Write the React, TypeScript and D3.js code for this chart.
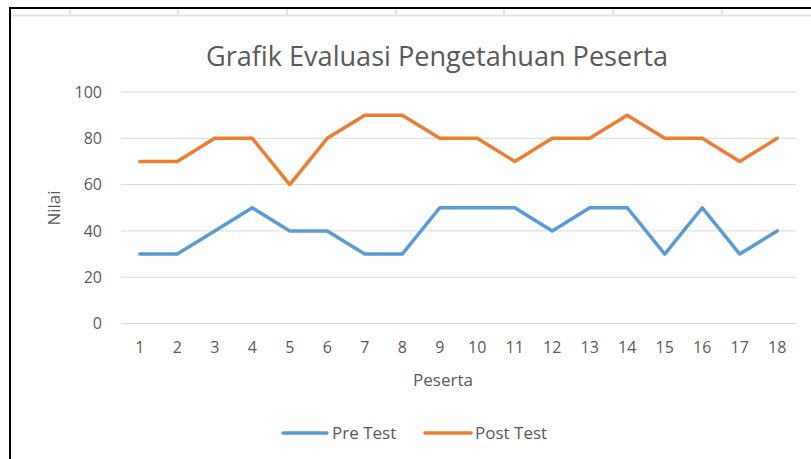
import React from "react";
import * as d3 from "d3";

const categories = ["1","2","3","4","5","6","7","8","9","10","11","12","13","14","15","16","17","18"];
const preTest = [30,30,40,50,40,40,30,30,50,50,50,40,50,50,30,50,30,40];
const postTest = [70,70,80,80,60,80,90,90,80,80,70,80,80,90,80,80,70,80];
const yTicks = [0,20,40,60,80,100];
const sheetColumnLines = [70,178,287,396,504,613,722];

const W = 811, H = 459;
const FONT = "'Open Sans', 'Noto Sans', sans-serif";
const TXT = "#595959";

export default function App() {
  const x = d3.scaleBand<string>().domain(categories).range([121, 796]).padding(0);
  const y = d3.scaleLinear().domain([0, 100]).range([323.5, 92]);
  const cx = (c: string) => (x(c) as number) + x.bandwidth() / 2;
  const line = d3.line<number>().x((_, i) => cx(categories[i])).y(d => y(d));

  return (
    <svg width={W} height={H} style={{ position: "absolute", left: 0, top: 0, background: "#fff" }} fontFamily={FONT}>
      <rect x={0} y={0} width={W} height={H} fill="#fff" />
      <rect x={9} y={9} width={W - 9} height={7} fill="#fff" />
      <line x1={9} x2={W} y1={15.5} y2={15.5} stroke="#e3e3e3" strokeWidth={2} />
      {sheetColumnLines.map(v => (
        <line key={v} x1={v} x2={v} y1={9} y2={15} stroke="#dcdcdc" strokeWidth={1.5} />
      ))}
      <rect x={9} y={7} width={W - 9} height={2} fill="#000" />
      <rect x={9} y={7} width={2} height={H - 7} fill="#000" />

      <text x={437} y={66} textAnchor="middle" fontSize={27} fill={TXT} textLength={462} lengthAdjust="spacingAndGlyphs">Grafik Evaluasi Pengetahuan Peserta</text>

      {yTicks.map(t => (
        <g key={t}>
          <line x1={121} x2={796} y1={y(t)} y2={y(t)} stroke="#d9d9d9" strokeWidth={1} />
          <text x={102} y={y(t)} dy="0.35em" textAnchor="end" fontSize={16} fill={TXT}>{t}</text>
        </g>
      ))}
      {categories.map(c => (
        <text key={c} x={cx(c)} y={353} textAnchor="middle" fontSize={16} fill={TXT}>{c}</text>
      ))}
      <text x={443} y={386} textAnchor="middle" fontSize={17} fill={TXT}>Peserta</text>
      <text transform="translate(60,208) rotate(-90)" textAnchor="middle" fontSize={17} fill={TXT}>Nilai</text>

      <path d={line(preTest) || ""} fill="none" stroke="#5B9BD5" strokeWidth={3.5} strokeLinejoin="round" strokeLinecap="round" />
      <path d={line(postTest) || ""} fill="none" stroke="#ED7D31" strokeWidth={3.5} strokeLinejoin="round" strokeLinecap="round" />

      <line x1={283} x2={327} y1={433} y2={433} stroke="#5B9BD5" strokeWidth={3.5} strokeLinecap="round" />
      <text x={332} y={439} fontSize={17} fill={TXT}>Pre Test</text>
      <line x1={425} x2={471} y1={433} y2={433} stroke="#ED7D31" strokeWidth={3.5} strokeLinecap="round" />
      <text x={475} y={439} fontSize={17} fill={TXT}>Post Test</text>
    </svg>
  );
}
